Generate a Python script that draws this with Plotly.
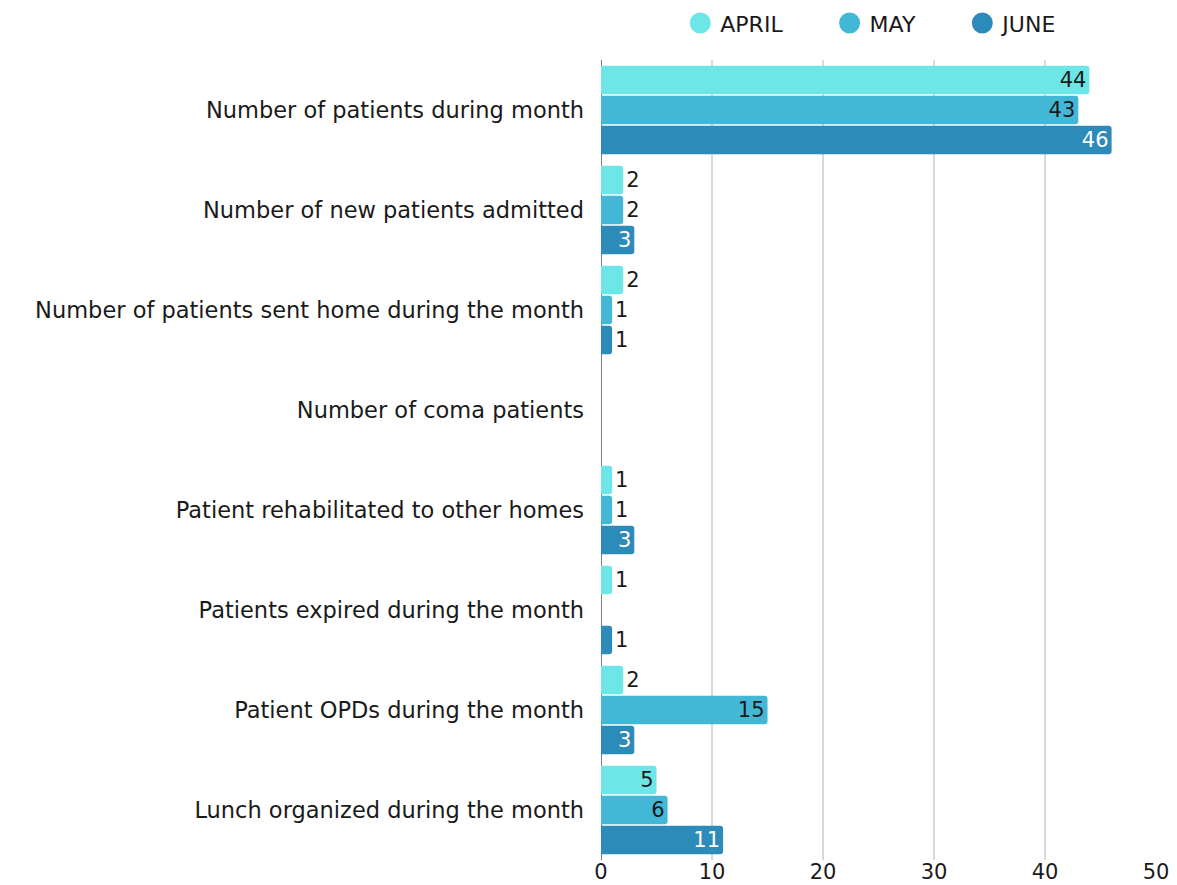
import plotly.graph_objects as go

categories = [
    "Number of patients during month",
    "Number of new patients admitted",
    "Number of patients sent home during the month",
    "Number of coma patients",
    "Patient rehabilitated to other homes",
    "Patients expired during the month",
    "Patient OPDs during the month",
    "Lunch organized during the month",
]
april = [44, 2, 2, 0, 1, 1, 2, 5]
may = [43, 2, 1, 0, 1, 0, 15, 6]
june = [46, 3, 1, 0, 3, 1, 3, 11]

series = [
    ("APRIL", april, "#6de6e8", "#1a1a1a"),
    ("MAY", may, "#42b8d6", "#1a1a1a"),
    ("JUNE", june, "#2d8bba", "#ffffff"),
]

FONT = "DejaVu Sans"
PAD = "\u00a0" * 6
fig = go.Figure()
for name, vals, color, intext in series:
    fig.add_trace(go.Bar(
        y=categories, x=vals, name=name, orientation="h",
        marker=dict(color=color, line=dict(width=0)),
        text=[str(v) if v else "" for v in vals],
        textposition=["inside" if v >= 3 else "outside" for v in vals],
        textangle=0,
        insidetextanchor="end",
        insidetextfont=dict(color=intext, size=21, family=FONT),
        outsidetextfont=dict(color="#1a1a1a", size=21, family=FONT),
        constraintext="none",
        cliponaxis=False,
        showlegend=False,
        hoverinfo="x+y+name",
    ))
    fig.add_trace(go.Scatter(
        x=[None], y=[None], mode="markers",
        name=name + (PAD if name != "JUNE" else ""),
        marker=dict(color=color, size=16, symbol="circle",
                    line=dict(color=color, width=5)),
        showlegend=True,
    ))

# page body has an 8px default margin: shrink figure so the plot lands
# where the reference has it
fig.update_layout(
    width=1169, height=877,
    paper_bgcolor="white", plot_bgcolor="white",
    margin=dict(l=593, r=21, t=52, b=25, autoexpand=False),
    barmode="group", bargap=0.1, bargroupgap=0.05,
    barcornerradius=3,
    font=dict(family=FONT, size=21, color="#1a1a1a"),
    legend=dict(orientation="h", x=0.487, xanchor="center", y=1.046,
                yanchor="middle", font=dict(size=22, color="#1a1a1a"),
                itemwidth=30, traceorder="normal"),
    xaxis=dict(range=[0, 50], dtick=10, showgrid=True, gridcolor="#d9d9d9",
               gridwidth=2, zeroline=True, zerolinecolor="#7f7f7f",
               zerolinewidth=1, showline=False, ticks="",
               automargin=False, ticklabelstandoff=-3,
               tickfont=dict(size=21, color="#1a1a1a")),
    yaxis=dict(autorange="reversed", showgrid=False, zeroline=False,
               showline=False, ticks="", ticklabelstandoff=16,
               automargin=False,
               tickfont=dict(size=22.5, color="#1a1a1a")),
)

fig.write_html("out.html")
